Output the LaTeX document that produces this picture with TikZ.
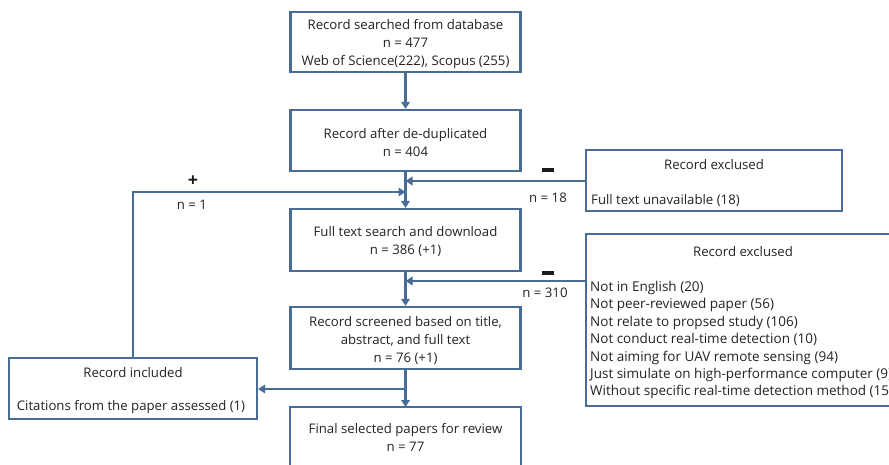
\documentclass[tikz,border=0pt]{standalone}
\usepackage{fontspec}
\setmainfont{Open Sans}
\usetikzlibrary{arrows.meta}
\definecolor{lineblue}{RGB}{72,108,150}
\definecolor{txt}{RGB}{35,35,35}
\tikzset{
  x=1pt, y=-1pt,
  box/.style={draw=lineblue, line width=2.1pt, fill=white, inner sep=0pt},
  openbox/.style={inner sep=0pt},
  edge/.style={draw=lineblue, line width=2.1pt},
  lbl/.style={text=txt, font=\fontsize{13.2}{18}\selectfont, inner sep=0pt, align=center},
  listlbl/.style={text=txt, font=\fontsize{13.5}{17.4}\selectfont, inner sep=0pt, align=left},
  sign/.style={text=txt!80!black, font=\fontsize{18}{18}\selectfont\bfseries, inner sep=0pt},
  arr/.style={draw=lineblue, line width=2.1pt, -{Triangle[width=8.5pt,length=7pt]}}
}
\begin{document}
\begin{tikzpicture}
\useasboundingbox (0,0) rectangle (889,465);
\clip (0,0) rectangle (889,465);
% main column boxes
\node[box, minimum width=230pt, minimum height=60pt] (a) at (405.5,42) {};
\node[box, minimum width=230pt, minimum height=61pt] (b) at (405.5,140.5) {};
\node[box, minimum width=230pt, minimum height=62pt] (c) at (405.5,240) {};
\node[box, minimum width=230pt, minimum height=62pt] (d) at (405.5,338) {};
\node[openbox, minimum width=230pt, minimum height=70pt, anchor=north] (f) at (405.5,407) {};
\draw[edge] (f.south west) -- (f.north west) -- (f.north east) -- (f.south east);
\node[lbl] (at) at (405.5,44.5) {Record searched from database\\ n = 477\\ Web of Science(222), Scopus (255)};
\node[lbl] (bt) at (405.5,143) {Record after de-duplicated\\ n = 404};
\node[lbl] (ct) at (405.5,241.5) {Full text search and download\\ n = 386 (+1)};
\node[lbl] (dt) at (405.5,340.5) {Record screened based on title,\\ abstract, and full text\\ n = 76 (+1)};
\node[lbl] (ft) at (405.5,437.5) {Final selected papers for review\\ n = 77};

% record included
\node[box, minimum width=248pt, minimum height=61pt] (inc) at (133,388.5) {};
\node[lbl] (inct) at (133,372.5) {Record included};
\node[lbl] (incl) at (131,407.5) {Citations from the paper assessed (1)};

% exclusions
\node[box, minimum width=256pt, minimum height=61pt] (e1) at (714,180.5) {};
\node[lbl] (e1t) at (714,164.5) {Record exclused};
\node[lbl, anchor=west] (e1l) at (591,200.5) {Full text unavailable (18)};

\node[openbox, minimum width=360pt, minimum height=172pt, anchor=north west] (e2) at (586,234) {};
\draw[edge] (e2.north east) -- (e2.north west) -- (e2.south west) -- (e2.south east);
\node[lbl] (e2t) at (743,251.5) {Record exclused};
\node[listlbl, anchor=north west] (e2l) at (590,281)
  {Not in English (20)\\
   Not peer-reviewed paper (56)\\
   Not relate to propsed study (106)\\
   Not conduct real-time detection (10)\\
   Not aiming for UAV remote sensing (94)\\
   Just simulate on high-performance computer (9)\\
   Without specific real-time detection method (15)};

% connectors
\draw[arr] (a.south) -- (b.north);
\draw[arr] (b.south) -- (c.north);
\draw[arr] (c.south) -- (d.north);
\draw[arr] (d.south) -- (f.north);

\coordinate (j1) at (405.5,181);
\coordinate (j0) at (405.5,192);
\coordinate (j2) at (405.5,281);
\coordinate (j3) at (405.5,389);

\draw[arr] (e1.west |- j1) -- (j1);
\draw[arr] (inc.north) |- (j0);
\draw[arr] (e2.west |- j2) -- (j2);
\draw[arr] (j3) -- (inc.east |- j3);

\node[sign] (m1) at (548,170) {\rule{12pt}{3.2pt}};
\node[lbl] (n18) at (548,197.5) {n = 18};
\node[sign] (m2) at (548,273) {\rule{12pt}{3.2pt}};
\node[lbl] (n310) at (545,292.5) {n = 310};
\node[sign] (p1) at (193,181) {+};
\node[lbl] (n1) at (192,204.5) {n = 1};
\end{tikzpicture}
\end{document}
